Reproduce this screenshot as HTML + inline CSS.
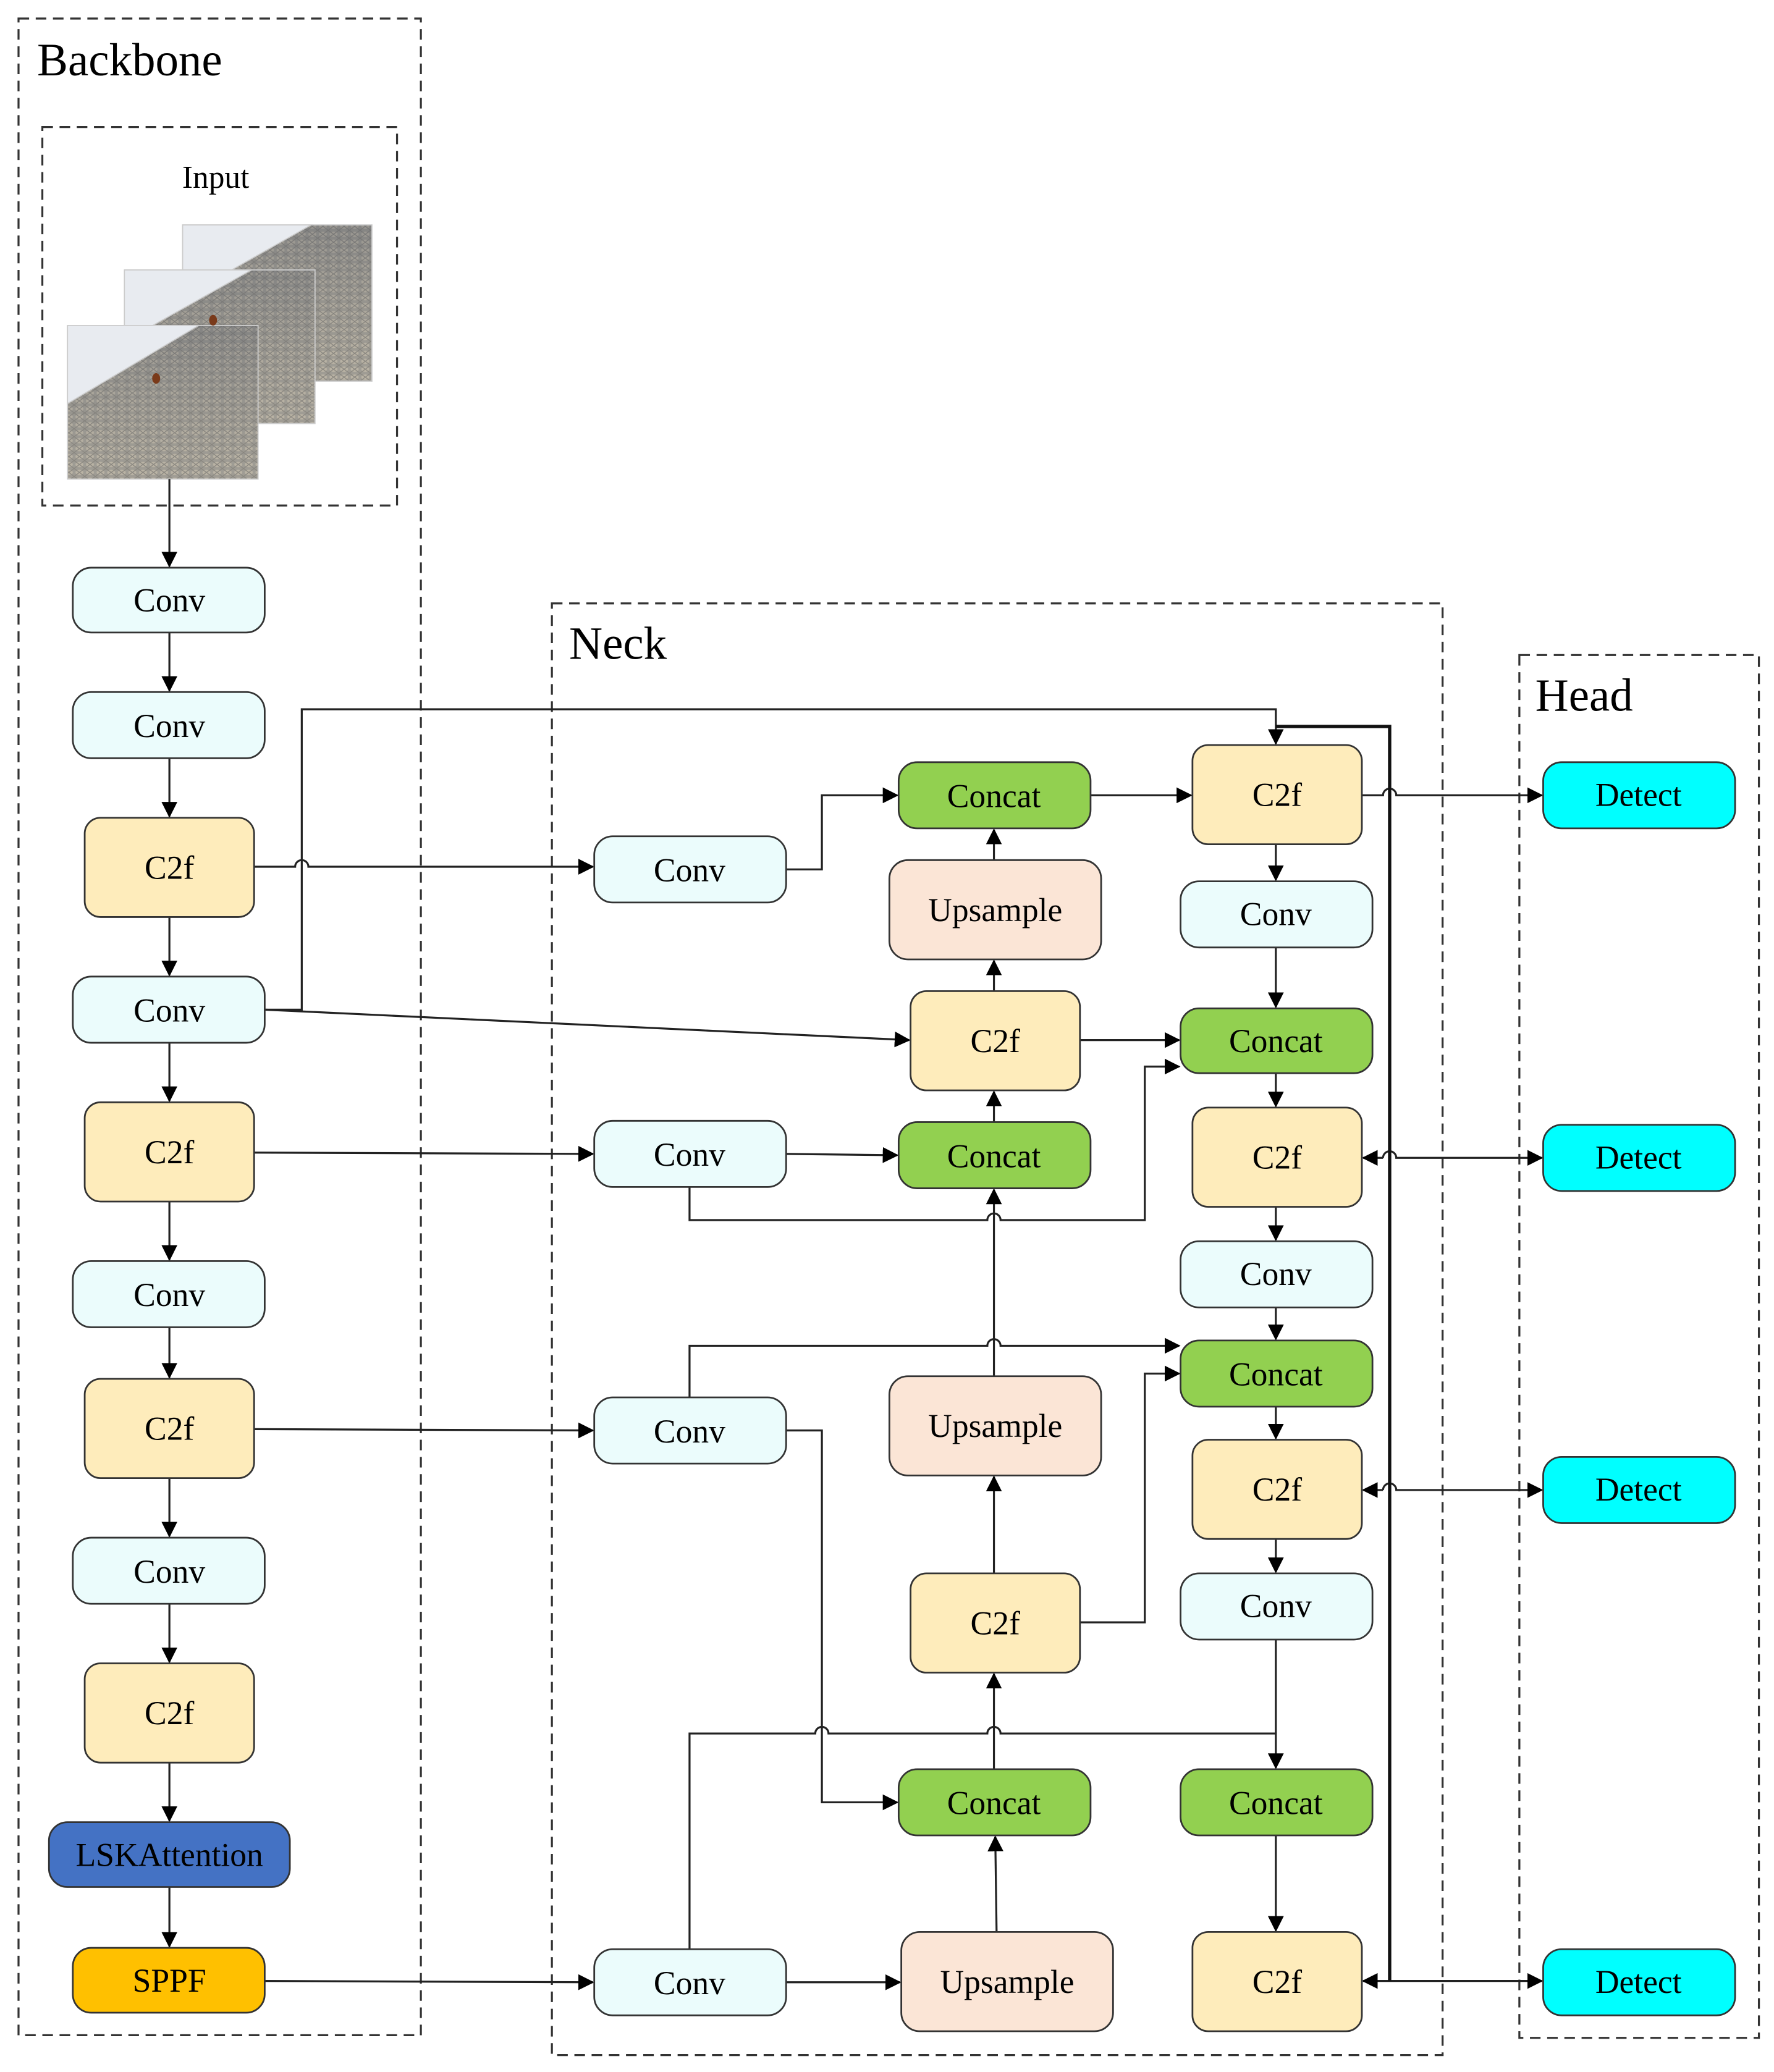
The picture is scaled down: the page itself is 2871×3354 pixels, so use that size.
<!DOCTYPE html>
<html><head><meta charset="utf-8"><style>
html,body{margin:0;padding:0;background:#fff}
svg{display:block}
text{font-family:"Liberation Serif",serif;fill:#000}
</style></head><body>
<svg width="2871" height="3354" viewBox="0 0 1340.4 1565.8" preserveAspectRatio="none" xmlns="http://www.w3.org/2000/svg">
<defs>
<marker id="a" markerWidth="12" markerHeight="12" refX="11" refY="6" orient="auto" markerUnits="userSpaceOnUse">
<path d="M0,0 L12,6 L0,12 z" fill="#000"/></marker>
<pattern id="tex" width="8" height="6" patternUnits="userSpaceOnUse">
<rect width="8" height="6" fill="#8e8e8c"/><ellipse cx="4" cy="3" rx="3" ry="2" fill="#b4afa4"/><path d="M0,0 L8,6 M8,0 L0,6" stroke="#6e6e6e" stroke-width="0.6"/></pattern>
<linearGradient id="g" x1="0" y1="0" x2="0" y2="1"><stop offset="0" stop-color="#7a7a7a" stop-opacity="0.5"/><stop offset="1" stop-color="#c9bfa8" stop-opacity="0.3"/></linearGradient>
</defs>
<g fill="none" stroke="#333" stroke-width="1.5" stroke-dasharray="8,5">
<rect x="14" y="14" width="304" height="1524"/>
<rect x="32" y="96" width="268" height="286"/>
<rect x="417" y="456" width="673" height="1097"/>
<rect x="1148" y="495" width="181" height="1045"/>
</g>
<text x="28" y="57" font-size="35">Backbone</text>
<text x="163" y="142" font-size="24" text-anchor="middle">Input</text>
<text x="430" y="498" font-size="35">Neck</text>
<text x="1160" y="537" font-size="35">Head</text>
<g stroke="#ccc" stroke-width="0.8">
<g><rect x="138" y="170" width="143" height="118" fill="url(#tex)"/><rect x="138" y="170" width="143" height="118" fill="url(#g)"/><polygon points="138,170 235,170 138,225" fill="#e8ebf0"/></g>
<g><rect x="94" y="204" width="144" height="116" fill="url(#tex)"/><rect x="94" y="204" width="144" height="116" fill="url(#g)"/><polygon points="94,204 190,204 94,258" fill="#e8ebf0"/></g>
<g><rect x="51" y="246" width="144" height="116" fill="url(#tex)"/><rect x="51" y="246" width="144" height="116" fill="url(#g)"/><polygon points="51,246 150,246 51,305" fill="#e8ebf0"/></g>
</g>
<ellipse cx="118" cy="286" rx="3" ry="4" fill="#7a3a1a"/><ellipse cx="161" cy="242" rx="3" ry="4" fill="#7a3a1a"/>
<g fill="none" stroke="#222" stroke-width="1.5">
<path d="M128,362 V428" marker-end="url(#a)"/>
<path d="M128,478 V522" marker-end="url(#a)"/>
<path d="M128,573 V617" marker-end="url(#a)"/>
<path d="M128,693 V737" marker-end="url(#a)"/>
<path d="M128,788 V832" marker-end="url(#a)"/>
<path d="M128,908 V952" marker-end="url(#a)"/>
<path d="M128,1003 V1041" marker-end="url(#a)"/>
<path d="M128,1117 V1161" marker-end="url(#a)"/>
<path d="M128,1212 V1256" marker-end="url(#a)"/>
<path d="M128,1332 V1376" marker-end="url(#a)"/>
<path d="M128,1426 V1471" marker-end="url(#a)"/>
<path d="M192,655 H223 a5,5 0 0 1 10,0 H448" marker-end="url(#a)"/>
<path d="M200,763 H228 V536 H964 V562" marker-end="url(#a)"/>
<path d="M200,763 L687,786" marker-end="url(#a)"/>
<path d="M192,871 L448,872" marker-end="url(#a)"/>
<path d="M192,1080 L448,1081" marker-end="url(#a)"/>
<path d="M200,1497 L448,1498" marker-end="url(#a)"/>
<path d="M594,657 H621 V601 H678" marker-end="url(#a)"/>
<path d="M751,650 V627" marker-end="url(#a)"/>
<path d="M751,749 V726" marker-end="url(#a)"/>
<path d="M751,848 V825" marker-end="url(#a)"/>
<path d="M594,872 L678,873" marker-end="url(#a)"/>
<path d="M816,786 H891" marker-end="url(#a)"/>
<path d="M521,897 V922 H746 a5,5 0 0 1 10,0 H865 V806 H891" marker-end="url(#a)"/>
<path d="M751,1040 V899" marker-end="url(#a)"/>
<path d="M521,1056 V1017 H746 a5,5 0 0 1 10,0 H891" marker-end="url(#a)"/>
<path d="M751,1189 V1116" marker-end="url(#a)"/>
<path d="M816,1226 H865 V1038 H891" marker-end="url(#a)"/>
<path d="M594,1081 H621 V1362 H678" marker-end="url(#a)"/>
<path d="M751,1337 V1265" marker-end="url(#a)"/>
<path d="M753,1460 L752,1388" marker-end="url(#a)"/>
<path d="M594,1498 H680" marker-end="url(#a)"/>
<path d="M521,1473 V1310 H616 a5,5 0 0 1 10,0 H746 a5,5 0 0 1 10,0 H964 V1336" marker-end="url(#a)"/>
<path d="M964,1239 V1310"/>
<path d="M964,1387 V1459" marker-end="url(#a)"/>
<path d="M964,638 V665" marker-end="url(#a)"/>
<path d="M964,716 V761" marker-end="url(#a)"/>
<path d="M964,811 V836" marker-end="url(#a)"/>
<path d="M964,912 V937" marker-end="url(#a)"/>
<path d="M964,988 V1012" marker-end="url(#a)"/>
<path d="M964,1063 V1087" marker-end="url(#a)"/>
<path d="M964,1163 V1188" marker-end="url(#a)"/>
<path d="M824,601 H900" marker-end="url(#a)"/>
<path d="M1029,601 H1045 a5,5 0 0 1 10,0 H1165" marker-end="url(#a)"/>
<path d="M1045,875 H1030" marker-end="url(#a)"/>
<path d="M1045,875 a5,5 0 0 1 10,0 H1165" marker-end="url(#a)"/>
<path d="M1045,1126 H1030" marker-end="url(#a)"/>
<path d="M1045,1126 a5,5 0 0 1 10,0 H1165" marker-end="url(#a)"/>
<path d="M1050,1497 H1030" marker-end="url(#a)"/>
<path d="M1050,1497 H1165" marker-end="url(#a)"/>
</g>
<path d="M964,549 H1050 V1497" fill="none" stroke="#111" stroke-width="2.5"/>
<g stroke="#333" stroke-width="1.3">
<g fill="#ebfcfc">
<rect x="55" y="429" width="145" height="49" rx="14"/><rect x="55" y="523" width="145" height="50" rx="14"/>
<rect x="55" y="738" width="145" height="50" rx="14"/><rect x="55" y="953" width="145" height="50" rx="14"/>
<rect x="55" y="1162" width="145" height="50" rx="14"/>
<rect x="449" y="632" width="145" height="50" rx="14"/><rect x="449" y="847" width="145" height="50" rx="14"/>
<rect x="449" y="1056" width="145" height="50" rx="14"/><rect x="449" y="1473" width="145" height="50" rx="14"/>
<rect x="892" y="666" width="145" height="50" rx="14"/><rect x="892" y="938" width="145" height="50" rx="14"/>
<rect x="892" y="1189" width="145" height="50" rx="14"/>
</g>
<g fill="#feecbb">
<rect x="64" y="618" width="128" height="75" rx="12"/><rect x="64" y="833" width="128" height="75" rx="12"/>
<rect x="64" y="1042" width="128" height="75" rx="12"/><rect x="64" y="1257" width="128" height="75" rx="12"/>
<rect x="688" y="749" width="128" height="75" rx="12"/><rect x="688" y="1189" width="128" height="75" rx="12"/>
<rect x="901" y="563" width="128" height="75" rx="12"/><rect x="901" y="837" width="128" height="75" rx="12"/>
<rect x="901" y="1088" width="128" height="75" rx="12"/><rect x="901" y="1460" width="128" height="75" rx="12"/>
</g>
<g fill="#92d050">
<rect x="679" y="576" width="145" height="50" rx="14"/><rect x="679" y="848" width="145" height="50" rx="14"/>
<rect x="679" y="1337" width="145" height="50" rx="14"/>
<rect x="892" y="762" width="145" height="49" rx="14"/><rect x="892" y="1013" width="145" height="50" rx="14"/>
<rect x="892" y="1337" width="145" height="50" rx="14"/>
</g>
<g fill="#fbe5d6">
<rect x="672" y="650" width="160" height="75" rx="14"/><rect x="672" y="1040" width="160" height="75" rx="14"/>
<rect x="681" y="1460" width="160" height="75" rx="14"/>
</g>
<g fill="#00ffff">
<rect x="1166" y="576" width="145" height="50" rx="14"/><rect x="1166" y="850" width="145" height="50" rx="14"/>
<rect x="1166" y="1101" width="145" height="50" rx="14"/><rect x="1166" y="1473" width="145" height="50" rx="14"/>
</g>
<rect x="37" y="1377" width="182" height="49" rx="14" fill="#4472c4"/>
<rect x="55" y="1472" width="145" height="49" rx="14" fill="#ffc000"/>
</g>
<g font-size="25" text-anchor="middle">
<text x="128" y="462">Conv</text><text x="128" y="557">Conv</text><text x="128" y="772">Conv</text>
<text x="128" y="987">Conv</text><text x="128" y="1196">Conv</text>
<text x="128" y="664">C2f</text><text x="128" y="879">C2f</text><text x="128" y="1088">C2f</text><text x="128" y="1303">C2f</text>
<text x="128" y="1410">LSKAttention</text><text x="128" y="1505">SPPF</text>
<text x="521" y="666">Conv</text><text x="521" y="881">Conv</text><text x="521" y="1090">Conv</text><text x="521" y="1507">Conv</text>
<text x="751" y="610">Concat</text><text x="751" y="882">Concat</text><text x="751" y="1371">Concat</text>
<text x="752" y="696">Upsample</text><text x="752" y="1086">Upsample</text><text x="761" y="1506">Upsample</text>
<text x="752" y="795">C2f</text><text x="752" y="1235">C2f</text>
<text x="965" y="609">C2f</text><text x="965" y="883">C2f</text><text x="965" y="1134">C2f</text><text x="965" y="1506">C2f</text>
<text x="964" y="699">Conv</text><text x="964" y="971">Conv</text><text x="964" y="1222">Conv</text>
<text x="964" y="795">Concat</text><text x="964" y="1047">Concat</text><text x="964" y="1371">Concat</text>
<text x="1238" y="609">Detect</text><text x="1238" y="883">Detect</text><text x="1238" y="1134">Detect</text><text x="1238" y="1506">Detect</text>
</g>
</svg>
</body></html>
